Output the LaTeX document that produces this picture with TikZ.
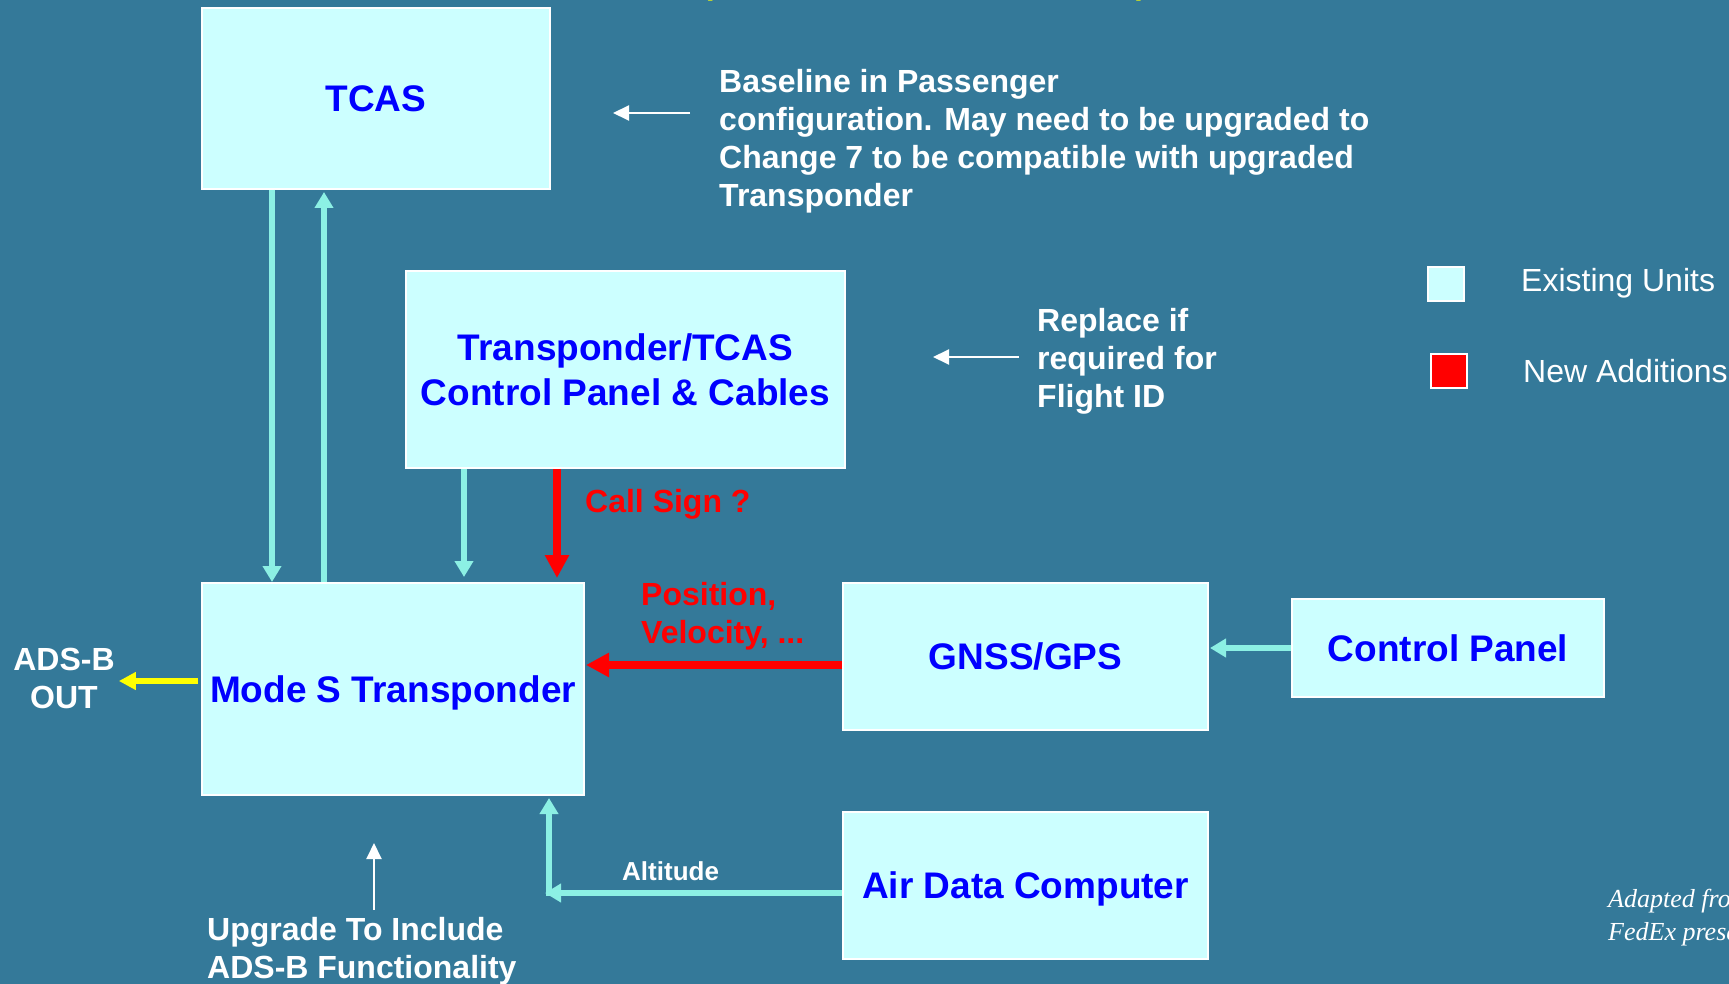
\documentclass[tikz,border=0pt]{standalone}
\usepackage{fontspec}
\setmainfont{Liberation Sans}
\newfontfamily\creditfont{Liberation Serif}
\usetikzlibrary{arrows.meta}

\definecolor{panelbg}{RGB}{52,121,153}
\definecolor{unitfill}{RGB}{204,255,255}
\definecolor{unittext}{RGB}{0,0,255}
\definecolor{linkcyan}{RGB}{140,240,228}
\definecolor{newred}{RGB}{255,0,0}
\definecolor{outyellow}{RGB}{255,255,0}

\begin{document}
\begin{tikzpicture}[x=1pt,y=-1pt,
  unit/.style={draw=white, line width=2pt, fill=unitfill, text=unittext,
    font=\fontsize{37}{45}\selectfont\bfseries, align=center, inner sep=0pt},
  oneline/.style={text height=26.5pt, text depth=0pt},
  note/.style={text=white, font=\fontsize{32}{38}\selectfont\bfseries,
    align=left, inner sep=0pt},
  redlabel/.style={note, text=newred},
  keytext/.style={text=white, font=\fontsize{32}{38}\selectfont, inner sep=0pt},
  keybox/.style={draw=white, line width=2pt, inner sep=0pt,
    minimum width=36pt, minimum height=34pt},
  link/.style={draw=linkcyan, line width=6pt,
    -{Triangle[length=16pt,width=18pt]}},
  newlink/.style={draw=newred, line width=8pt,
    -{Triangle[length=23pt,width=23pt]}},
  outlink/.style={draw=outyellow, line width=6pt,
    -{Triangle[length=17pt,width=17pt]}},
  pointer/.style={draw=white, line width=2pt,
    -{Triangle[length=16pt,width=15pt]}}
]
% canvas
\fill[panelbg] (0,0) rectangle (1729,984);
\clip (0,0) rectangle (1729,984);
\useasboundingbox (0,0) rectangle (1729,984);

% title brackets running off the top edge
\node[anchor=base west, inner sep=0pt, text=outyellow,
  font=\fontsize{32}{38}\selectfont\bfseries] (tl) at (702,-5) {(};
\node[anchor=base west, inner sep=0pt, text=outyellow,
  font=\fontsize{32}{38}\selectfont\bfseries] (tr) at (1136,-5) {)};

% units
\node[unit, oneline, minimum width=348pt, minimum height=181pt] (tcas) at (376,98.5) {TCAS};
\node[unit, minimum width=439pt, minimum height=197pt] (cpanel) at (625.5,369.5)
  {Transponder/TCAS\\Control Panel \& Cables};
\node[unit, oneline, minimum width=382pt, minimum height=212pt] (modes) at (393,689) {Mode S Transponder};
\node[unit, oneline, minimum width=365pt, minimum height=147pt] (gnss) at (1025.5,656.5) {GNSS/GPS};
\node[unit, oneline, minimum width=312pt, minimum height=98pt] (ctrl) at (1448,648) {Control Panel};
\node[unit, oneline, minimum width=365pt, minimum height=147pt] (adc) at (1025.5,885.5) {Air Data Computer};

% annotations (multi-line nodes are placed by the baseline of their last line)
\node[note, anchor=base west] (tcasnote) at (719,207)
  {Baseline in Passenger\\configuration. May need to be upgraded to\\Change 7 to be compatible with upgraded\\Transponder};
\node[note, anchor=base west] (cpnote) at (1037,407)
  {Replace if\\required for\\Flight ID};
\node[note, anchor=base west] (upnote) at (207,978)
  {Upgrade To Include\\ADS-B Functionality};
\node[note, align=center, anchor=base] (adsb) at (64,708) {ADS-B\\OUT};
\node[redlabel, anchor=base west] (callsign) at (585,512) {Call Sign ?};
\node[redlabel, anchor=base west] (posvel) at (641,643) {Position,\\Velocity, ...};
\node[text=white, font=\fontsize{26}{30}\selectfont\bfseries, inner sep=0pt,
  anchor=base west] (altlabel) at (622,880) {Altitude};

% key
\node[keybox, fill=unitfill] (keyold) at (1445.5,284) {};
\node[keybox, fill=newred] (keynew) at (1449,371) {};
\node[keytext, anchor=base west] (keyoldtext) at (1521,291) {Existing Units};
\node[keytext, anchor=base west] (keynewtext) at (1523,382) {New Additions};

% credit
\node[text=white, inner sep=0pt, anchor=base west, align=left,
  font=\creditfont\itshape\fontsize{26}{33}\selectfont] (credit) at (1608,940)
  {Adapted from\\FedEx presentation};

% column and corner positions
\coordinate (c1) at (272,0);
\coordinate (c2) at (324,0);
\coordinate (c3) at (464,0);
\coordinate (c4) at (557,0);
\coordinate (r1) at (0,665);
\coordinate (r2) at (0,681);
\coordinate (r3) at (0,648);
\coordinate (altcorner) at (549,893);
\coordinate (tcasptr) at (613,113);
\coordinate (cpptr) at (933,357);
\coordinate (upptr) at (374,843);

% connections between units
\draw[link] (tcas.south -| c1) -- (modes.north -| c1);
\draw[link, shorten >=2pt] (modes.north -| c2) -- (tcas.south -| c2);
\draw[link, shorten >=5pt] (cpanel.south -| c3) -- (modes.north -| c3);
\draw[newlink, shorten >=4pt] (cpanel.south -| c4) -- (modes.north -| c4);
\draw[newlink, shorten >=1pt] (gnss.west |- r1) -- (modes.east |- r1);
\draw[link, shorten >=1pt] (ctrl.west |- r3) -- (gnss.east |- r3);
\draw[outlink, shorten <=3pt, shorten >=4pt] (modes.west |- r2) -- (adsb.east |- r2);
\draw[link, shorten >=-4pt] (adc.west |- altcorner) -- (altcorner);
\draw[link, shorten <=-3pt, shorten >=2pt] (altcorner) -- (modes.south -| altcorner);

% pointers from the annotations
\draw[pointer, shorten <=29pt] (tcasnote.west |- tcasptr) -- (tcasptr);
\draw[pointer, shorten <=18pt] (cpnote.west |- cpptr) -- (cpptr);
\draw[pointer, shorten <=7pt] (upnote.north -| upptr) -- (upptr);
\end{tikzpicture}
\end{document}
